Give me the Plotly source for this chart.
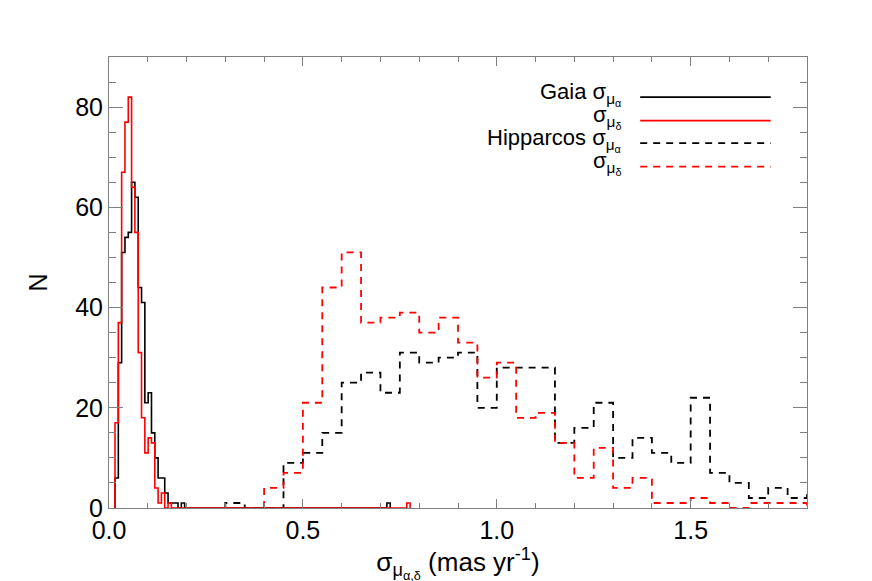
import numpy as np
import plotly.graph_objects as go

## ==== DATA ==== ##
# Gaia: fine bins starting at gaia_x0, width gaia_dx
gaia_x0 = 0.0155
gaia_dx = 0.00855
gaia_ra_n  = [6, 29, 51, 54, 55, 65, 62, 44, 41, 21, 23, 15, 10, 6, 6, 3, 1, 1, 1, 0, 1, 0] + [0]*60 + [1]
gaia_dec_n = [17, 37, 67, 77, 82, 64, 55, 31, 18, 11, 14, 13, 4, 1, 3, 0, 1, 0] + [0]*70 + [1]

# Hipparcos: 0.05 wide bins
hip_dx = 0.05
hip_ra_x0 = 0.30
hip_ra_n = [1, 0, 0, 9, 11, 15, 25, 27, 23, 31, 29, 30, 31, 20, 28, 28, 28,
            13, 16, 21, 10, 14, 11, 9, 22, 7, 5, 2, 4, 2, 3]
hip_dec_x0 = 0.40
hip_dec_n = [4, 7, 21, 44, 51, 37, 38, 39, 35, 38, 33, 26, 29, 18, 19,
             13, 6, 12, 4, 6, 1, 1, 2, 1, 0, 1, 1, 1]

legend_labels = ["Gaia σ<sub>μ<sub>α</sub></sub>", "σ<sub>μ<sub>δ</sub></sub>",
                 "Hipparcos σ<sub>μ<sub>α</sub></sub>", "σ<sub>μ<sub>δ</sub></sub>"]


def step_xy(x0, dx, counts):
    # outline of a histogram: rise at the first edge, drop at the last
    edges = x0 + dx*np.arange(len(counts) + 1)
    x = np.concatenate([[edges[0]], edges])
    y = [0] + list(counts) + [0]
    return x, y


FONT = "Liberation Sans, Arial, Helvetica, sans-serif"
AXC = "#7f7f7f"

fig = go.Figure()

styles = [("black", "solid", 1.6), ("red", "solid", 1.6),
          ("black", "7px,6px", 1.8), ("red", "7px,6px", 1.8)]
series = [(gaia_x0, gaia_dx, gaia_ra_n), (gaia_x0, gaia_dx, gaia_dec_n),
          (hip_ra_x0, hip_dx, hip_ra_n), (hip_dec_x0, hip_dx, hip_dec_n)]
order = [2, 3, 0, 1]
for i in order:
    x0, dx, n = series[i]
    col, dash, w = styles[i]
    xs, ys = step_xy(x0, dx, n)
    fig.add_trace(go.Scatter(x=xs, y=ys, mode="lines", line_shape="hv",
                             line=dict(color=col, dash=dash, width=w),
                             showlegend=False, hoverinfo="skip"))

## legend drawn by hand (line samples on the right of the labels)
leg_y = [0.911, 0.859, 0.809, 0.757]
for lab, yy, (col, dash, w) in zip(legend_labels, leg_y, styles):
    fig.add_shape(type="line", xref="paper", yref="paper",
                  x0=0.761, x1=0.948, y0=yy, y1=yy,
                  line=dict(color=col, dash=dash, width=w))
    fig.add_annotation(xref="paper", yref="paper", x=0.737, y=yy + 0.008,
                       xanchor="right", yanchor="middle", showarrow=False,
                       text=lab, font=dict(size=22, color="black", family=FONT))

fig.update_xaxes(range=[0, 1.8], dtick=0.5, tick0=0, tickformat=".1f",
                 ticks="inside", ticklen=9, tickwidth=1, tickcolor=AXC,
                 minor=dict(dtick=0.1, ticks="inside", ticklen=5, tickcolor=AXC, tickwidth=1),
                 showline=True, linecolor=AXC, linewidth=1, mirror="allticks",
                 showgrid=False, zeroline=False,
                 tickfont=dict(size=25, color="black", family=FONT),
                 title=dict(text="σ<sub>μ<sub>α,δ</sub></sub> (mas yr<sup>-1</sup>)",
                            font=dict(size=26, color="black", family=FONT), standoff=3))
fig.update_yaxes(range=[0, 90], dtick=20, tick0=0,
                 ticks="inside", ticklen=14, tickwidth=1, tickcolor=AXC,
                 minor=dict(dtick=5, ticks="inside", ticklen=7, tickcolor=AXC, tickwidth=1),
                 showline=True, linecolor=AXC, linewidth=1, mirror="allticks",
                 showgrid=False, zeroline=False, ticklabelstandoff=0,
                 tickfont=dict(size=25, color="black", family=FONT),
                 title=dict(text="N", font=dict(size=25, color="black", family=FONT), standoff=20))

# the page body adds an 8px offset, so margins are shifted to compensate
fig.update_layout(width=872, height=581,
                  margin=dict(l=101, r=73, t=49, b=81),
                  plot_bgcolor="white", paper_bgcolor="white",
                  font=dict(family=FONT, color="black"),
                  showlegend=False)

fig.write_html("out.html")
